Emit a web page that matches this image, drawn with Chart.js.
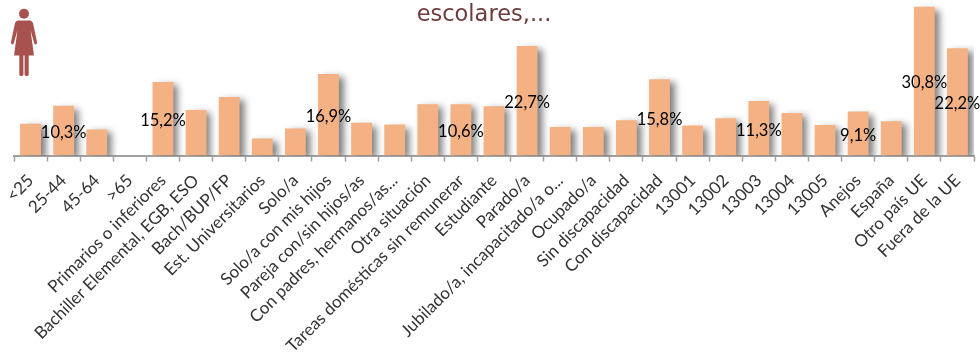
<!DOCTYPE html>
<html><head><meta charset="utf-8">
<script src="https://cdn.jsdelivr.net/npm/chart.js@4/dist/chart.umd.min.js"></script>
<style>
html,body{margin:0;padding:0;background:#fff;overflow:hidden}
#wrap{position:relative;width:980px;height:359px}
canvas{position:absolute;left:0;top:0}
svg{position:absolute;left:0;top:0}
</style></head><body>
<div id="wrap">
<canvas id="c" width="980" height="359"></canvas>
<svg width="50" height="85" viewBox="0 0 50 85" fill="#a85250">
<circle cx="24" cy="13.8" r="5"/>
<path d="M18 20.5 H30 Q32 20.8 33 23 L37 42 Q37.3 44.5 35.5 44.5 Q34.4 44.5 34 42.5 L30.5 30 L34 55.5 H14 L17.5 30 L14 42.5 Q13.6 44.5 12.5 44.5 Q10.7 44.5 11 42 L15 23 Q16 20.8 18 20.5 Z"/>
<path d="M19.3 55 H23.4 V74.5 Q23.4 76 21.4 76 Q19.3 76 19.3 74.5 Z"/>
<path d="M24.6 55 H28.7 V74.5 Q28.7 76 26.6 76 Q24.6 76 24.6 74.5 Z"/>
</svg>
</div>
<script>
const categories = ["<25","25-44","45-64",">65","Primarios o inferiores","Bachiller Elemental, EGB, ESO","Bach/BUP/FP","Est. Universitarios","Solo/a","Solo/a con mis hijos","Pareja con/sin hijos/as","Con padres, hermanos/as...","Otra situación","Tareas domésticas sin remunerar","Estudiante","Parado/a","Jubilado/a, incapacitado/a o...","Ocupado/a","Sin discapacidad","Con discapacidad","13001","13002","13003","13004","13005","Anejos","España","Otro país UE","Fuera de la UE"];
const values = [6.6,10.3,5.4,0,15.2,9.4,12.1,3.5,5.6,16.9,6.8,6.4,10.6,10.6,10.2,22.7,5.9,5.9,7.3,15.8,6.2,7.7,11.3,8.8,6.3,9.1,7.1,30.8,22.2];
const shownLabels = [null,"10,3%",null,null,"15,2%",null,null,null,null,"16,9%",null,null,null,"10,6%",null,"22,7%",null,null,null,"15,8%",null,null,"11,3%",null,null,"9,1%",null,"30,8%","22,2%"];
const titleText = "escolares,...";

const barShadow = {
  id:'barShadow',
  beforeDatasetDraw(chart){
    const c=chart.ctx; c.save();
    c.shadowColor='rgba(0,0,0,0.5)'; c.shadowBlur=7; c.shadowOffsetX=5; c.shadowOffsetY=3;
  },
  afterDatasetDraw(chart){ chart.ctx.restore(); }
};
const centerLabels = {
  id:'centerLabels',
  afterDatasetsDraw(chart){
    const c=chart.ctx, meta=chart.getDatasetMeta(0);
    c.save();
    c.font='16.5px Lato'; c.fillStyle='#000'; c.textAlign='center'; c.textBaseline='middle';
    shownLabels.forEach((t,i)=>{
      if(!t) return;
      const p=meta.data[i].getCenterPoint();
      c.fillText(t,p.x,p.y+2);
    });
    c.restore();
  }
};
const titleDraw = {
  id:'titleDraw',
  afterDraw(chart){
    const c=chart.ctx;
    c.save();
    c.font='22.5px "DejaVu Sans"'; c.fillStyle='#6e3b3b'; c.textAlign='center'; c.textBaseline='alphabetic';
    c.fillText(titleText,484,21);
    c.restore();
  }
};
new Chart(document.getElementById('c'),{
  type:'bar',
  data:{labels:categories,datasets:[{data:values,backgroundColor:'#f4b183',barPercentage:0.63,categoryPercentage:1}]},
  plugins:[barShadow,centerLabels,titleDraw],
  options:{
    responsive:false,animation:false,
    layout:{padding:{left:14,right:6,top:0,bottom:0}},
    plugins:{legend:{display:false},tooltip:{enabled:false},title:{display:false}},
    scales:{
      x:{
        offset:true,
        afterFit(s){s.paddingLeft=0;s.paddingRight=0;s.height=203.5;},
        grid:{display:true,drawOnChartArea:false,drawTicks:true,tickLength:6,tickColor:'#a0a0a0',tickWidth:1.5,offset:true},
        border:{display:true,color:'#a0a0a0',width:2},
        ticks:{autoSkip:false,maxRotation:45,minRotation:45,padding:9,color:'#333',font:{family:'Lato',size:17}}
      },
      y:{display:false,min:0,max:32.2}
    }
  }
});
</script>
</body></html>
